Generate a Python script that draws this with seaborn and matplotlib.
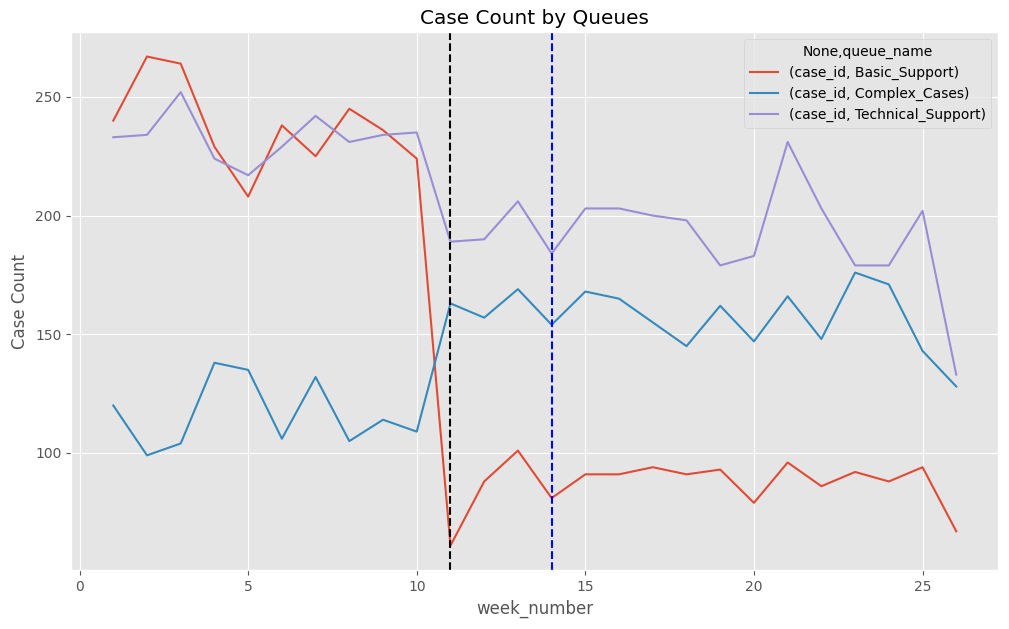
import matplotlib
matplotlib.use("Agg")
import matplotlib.pyplot as plt
import seaborn as sns
import pandas as pd

weeks = list(range(1, 27))
basic_support = [240, 267, 264, 229, 208, 238, 225, 245, 236, 224,
                 61, 88, 101, 81, 91, 91, 94, 91, 93, 79,
                 96, 86, 92, 88, 94, 67]
complex_cases = [120, 99, 104, 138, 135, 106, 132, 105, 114, 109,
                 163, 157, 169, 154, 168, 165, 155, 145, 162, 147,
                 166, 148, 176, 171, 143, 128]
technical_support = [233, 234, 252, 224, 217, 229, 242, 231, 234, 235,
                     189, 190, 206, 184, 203, 203, 200, 198, 179, 183,
                     231, 203, 179, 179, 202, 133]
queue_labels = ["(case_id, Basic_Support)", "(case_id, Complex_Cases)",
                "(case_id, Technical_Support)"]
marker_weeks = [11, 14]
marker_colors = ["black", "blue"]

rows = []
for lab, vals in zip(queue_labels, [basic_support, complex_cases, technical_support]):
    for w, v in zip(weeks, vals):
        rows.append({"week_number": w, "case_count": v, "queue": lab})
df = pd.DataFrame(rows)

plt.style.use("ggplot")
fig, ax = plt.subplots(figsize=(10.09, 6.29), dpi=100)
fig.subplots_adjust(left=0.0705, right=0.9895, top=0.949, bottom=0.0938)

sns.lineplot(data=df, x="week_number", y="case_count", hue="queue",
             palette=["#E24A33", "#348ABD", "#988ED5"], ax=ax, linewidth=1.5)

for wk, c in zip(marker_weeks, marker_colors):
    ax.axvline(wk, color=c, linestyle="--", linewidth=1.5)

ax.set_title("Case Count by Queues")
ax.set_xlabel("week_number")
ax.set_ylabel("Case Count")
handles, labels = ax.get_legend_handles_labels()
ax.legend(handles[:3], labels[:3], title="None,queue_name", loc="upper right")

fig.savefig("out.png", dpi=100)
